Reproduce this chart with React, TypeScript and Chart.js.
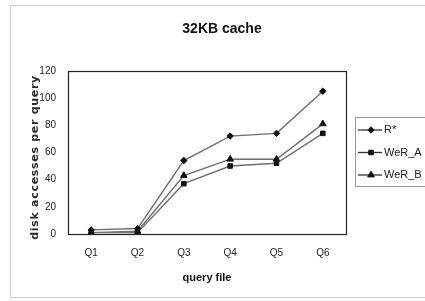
import React, { useEffect, useRef } from "react";
import { Chart, registerables, LinearScale } from "chart.js";
import { drawPoint } from "chart.js/helpers";

class SpacedLinearScale extends LinearScale {
  static id = "spacedLinear";
  static defaults = LinearScale.defaults;
  drawTitle() {
    const ctx: any = (this as any).ctx;
    ctx.save();
    ctx.letterSpacing = "0.7px";
    ctx.translate(0, 5);
    super.drawTitle();
    ctx.restore();
  }
}

Chart.register(...registerables, SpacedLinearScale);

const categories = ["Q1", "Q2", "Q3", "Q4", "Q5", "Q6"];
const seriesLabels = ["R*", "WeR_A", "WeR_B"];
const rStar = [3, 4, 54, 72, 74, 105];
const werA = [1, 1, 37, 50, 52, 74];
const werB = [1, 2, 43, 55, 55, 81];
const yTicks = [0, 20, 40, 60, 80, 100, 120];
const pointStyles = ["rectRot", "rect", "triangle"];
const pointRadii = [3.2, 3.2, 3.8];

const FONT = "'Liberation Sans', Arial, sans-serif";

const framePlugin = {
  id: "frame",
  beforeDraw(chart: any) {
    const ctx = chart.ctx;
    ctx.save();
    ctx.strokeStyle = "#cfcfcf";
    ctx.lineWidth = 1;
    ctx.strokeRect(10.5, 5.5, chart.width + 10, chart.height - 9);
    ctx.restore();
  },
  beforeDatasetsDraw(chart: any) {
    const { ctx, chartArea } = chart;
    ctx.save();
    ctx.strokeStyle = "#222";
    ctx.lineWidth = 1.2;
    ctx.strokeRect(
      Math.round(chartArea.left) + 0.5,
      Math.round(chartArea.top) + 0.5,
      Math.round(chartArea.right - chartArea.left),
      Math.round(chartArea.bottom - chartArea.top)
    );
    ctx.restore();
  },
};

const boxLegendPlugin = {
  id: "boxLegend",
  afterDraw(chart: any) {
    const { ctx, chartArea } = chart;
    const x0 = Math.round(chartArea.right) + 9;
    const y0 = 117;
    const rowH = 22.5;
    ctx.save();
    ctx.strokeStyle = "#999";
    ctx.lineWidth = 1;
    ctx.strokeRect(x0 + 0.5, y0 + 0.5, 100, 69);
    chart.data.datasets.forEach((ds: any, i: number) => {
      const y = y0 + 13 + i * rowH;
      ctx.strokeStyle = "#333";
      ctx.lineWidth = 1.3;
      ctx.beginPath();
      ctx.moveTo(x0 + 3, y);
      ctx.lineTo(x0 + 27, y);
      ctx.stroke();
      ctx.fillStyle = "#111";
      ctx.strokeStyle = "#111";
      ctx.lineWidth = 1;
      drawPoint(ctx, { pointStyle: ds.pointStyle, radius: ds.pointRadius, borderWidth: 1, rotation: 0 } as any, x0 + 16, y);
      ctx.fillStyle = "#222";
      ctx.font = "11px " + FONT;
      ctx.textBaseline = "middle";
      ctx.textAlign = "left";
      ctx.fillText(ds.label, x0 + 29, y);
    });
    ctx.restore();
  },
};

export default function App() {
  const ref = useRef<HTMLCanvasElement | null>(null);

  useEffect(() => {
    if (!ref.current) return;
    const values = [rStar, werA, werB];
    const chart = new Chart(ref.current, {
      type: "line",
      data: {
        labels: categories,
        datasets: values.map((v, i) => ({
          label: seriesLabels[i],
          data: v,
          borderColor: "#6e6e6e",
          borderWidth: 1.4,
          pointStyle: pointStyles[i] as any,
          pointRadius: pointRadii[i],
          pointBackgroundColor: "#111",
          pointBorderColor: "#111",
          pointBorderWidth: 1,
          tension: 0,
          yAxisID: "y",
        })),
      },
      options: {
        responsive: false,
        animation: false,
        layout: { padding: { left: 19, right: 0, top: 0, bottom: 0 } },
        plugins: {
          legend: { display: false },
          tooltip: { enabled: false },
          title: {
            display: true,
            text: "32KB cache",
            color: "#111",
            font: { family: FONT, size: 14, weight: "bold" },
            padding: { top: 21, bottom: 33 },
          },
        },
        scales: {
          x: {
            offset: true,
            grid: { display: false, drawTicks: false },
            border: { display: false },
            ticks: { color: "#222", font: { family: FONT, size: 10 }, padding: 13 },
            title: {
              display: true,
              text: "query file",
              color: "#111",
              font: { family: FONT, size: 11, weight: "bold" },
              padding: { top: 0, bottom: 16 },
            },
            afterFit(s: any) {
              s.height = 67;
            },
          },
          y: {
            type: "spacedLinear" as any,
            min: 0,
            max: 120,
            afterBuildTicks(s: any) {
              s.ticks = yTicks.map((v) => ({ value: v }));
            },
            grid: { display: false, drawTicks: false },
            border: { display: false },
            ticks: { color: "#222", font: { family: FONT, size: 10 }, padding: 12 },
            title: {
              display: true,
              text: "disk accesses per query",
              color: "#2a2a2a",
              font: { family: "'DejaVu Sans', sans-serif", size: 11, weight: "bold" },
              padding: { top: 10, bottom: 0 },
            },
            afterFit(s: any) {
              s.width = 49;
            },
          },
          y2: {
            position: "right",
            display: true,
            grid: { display: false, drawTicks: false },
            border: { display: false },
            ticks: { display: false },
            afterFit(s: any) {
              s.width = 79;
            },
          },
        },
      },
      plugins: [framePlugin, boxLegendPlugin],
    });
    return () => chart.destroy();
  }, []);

  return (
    <div style={{ position: "absolute", left: 0, top: 0, width: 425, height: 301, background: "#fff" }}>
      <canvas ref={ref} width={425} height={301} />
    </div>
  );
}
